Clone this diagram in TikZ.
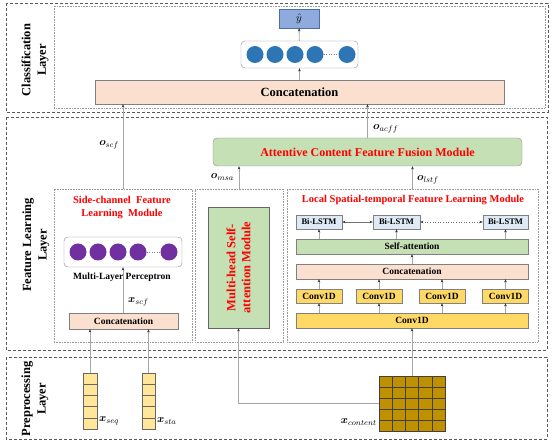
\documentclass[tikz,border=0pt]{standalone}
\usepackage{amsmath}
\usepackage{amssymb}
\usepackage{fontspec}
\setmainfont{Liberation Serif}
\usepackage{tikz}
\usetikzlibrary{arrows.meta}
\definecolor{concatfill}{HTML}{FBE0CF}
\definecolor{yhatfill}{HTML}{8FAADC}
\definecolor{yhatedge}{HTML}{4A6EA8}
\definecolor{bluedot}{HTML}{2E75B6}
\definecolor{purpledot}{HTML}{7030A0}
\definecolor{greenfill}{HTML}{C5E0B4}
\definecolor{lstmfill}{HTML}{DEEBF7}
\definecolor{convfill}{HTML}{FFD966}
\definecolor{vecfill}{HTML}{FFE699}
\definecolor{matfill}{HTML}{BF9000}
\definecolor{redtext}{HTML}{FF0000}

\begin{document}
\begin{tikzpicture}[x=1pt,y=-1pt,
    layerbox/.style={draw=black!65,dash pattern=on 3pt off 2pt,line width=0.9pt},
    modbox/.style={draw=black!40,densely dotted,line width=0.6pt,inner sep=0pt},
    block/.style={draw=black!50,inner sep=0pt,font=\bfseries\fontsize{9.5pt}{11pt}\selectfont},
    roundbox/.style={draw=black!45,rounded corners=4pt,fill=white,inner sep=0pt},
    layertext/.style={rotate=90,align=center,font=\bfseries\fontsize{12.5pt}{15.5pt}\selectfont},
    redtitle/.style={text=redtext,align=center,font=\bfseries\fontsize{10.5pt}{13pt}\selectfont},
    lab/.style={inner sep=1pt,font=\fontsize{11pt}{12pt}\selectfont},
    arr/.style={draw=black!35,line width=0.9pt,-{Stealth[length=3.2pt,width=2.6pt,black!80]}},
    darr/.style={draw=black!55,line width=0.6pt,{Stealth[length=3.2pt,width=2.6pt,black!80]}-{Stealth[length=3.2pt,width=2.6pt,black!80]}}]
\useasboundingbox (0,0) rectangle (555,446);
% layers
\draw[layerbox] (6,3) rectangle (548,112);
\draw[modbox] (54,6) rectangle (545,108);
\draw[layerbox] (6,117) rectangle (547,350);
\draw[layerbox] (6,357) rectangle (547,439);
\node[layertext] (cltext) at (35,60) {Classification\\Layer};
\node[layertext] (fltext) at (36,245) {Feature Learning\\Layer};
\node[layertext] (pltext) at (35,399) {Preprocessing\\Layer};
% classification layer
\node[block,fill=yhatfill,draw=yhatedge,minimum width=40pt,minimum height=19pt,font=\fontsize{10.5pt}{12pt}\selectfont] (yhat) at (299,18.5) {$\hat{y}$};
\node[roundbox,minimum width=117pt,minimum height=27pt] (outl) at (299.5,54.5) {};
\fill[bluedot] (255,54.5) circle[radius=8.5pt];
\fill[bluedot] (275,54.5) circle[radius=8.5pt];
\fill[bluedot] (295,54.5) circle[radius=8.5pt];
\fill[bluedot] (315,54.5) circle[radius=8.5pt];
\fill[bluedot] (347,54.5) circle[radius=8.5pt];
\draw[black!50,dotted] (324,54.5) -- (338,54.5);
\node[block,fill=concatfill,minimum width=409pt,minimum height=24pt,font=\bfseries\fontsize{12.5pt}{14pt}\selectfont] (ccat) at (299.5,92) {Concatenation};
\draw[arr] (ccat) -- (outl);
\draw[arr] (outl) -- (yhat);
% feature learning layer
\node[roundbox,fill=greenfill,minimum width=309pt,minimum height=28pt,text=redtext,font=\bfseries\fontsize{12pt}{14pt}\selectfont] (acff) at (367.5,152) {Attentive Content Feature Fusion Module};
\node[modbox,minimum width=138pt,minimum height=153pt] (scf) at (123,265.5) {};
\node[modbox,minimum width=88pt,minimum height=153pt] (msam) at (239,265.5) {};
\node[modbox,minimum width=251pt,minimum height=153pt] (lstf) at (412.5,265.5) {};
\draw[arr] (acff.north) -- (acff.north |- ccat.south);
\node[lab,anchor=west] (oacff) at (372,129) {$\boldsymbol{o}_{acff}$};
\draw[arr] (scf.north) -- (scf.north |- ccat.south);
\node[lab,anchor=east] (oscf) at (120,145) {$\boldsymbol{o}_{scf}$};
\draw[arr] (msam.north) -- (msam.north |- acff.south);
\node[lab,anchor=east] (omsa) at (235,177) {$\boldsymbol{o}_{msa}$};
\draw[arr] (lstf.north) -- (lstf.north |- acff.south);
\node[lab,anchor=west] (olstf) at (416,180) {$\boldsymbol{o}_{lstf}$};
% side-channel module
\node[redtitle] (scftitle) at (122,208) {Side-channel\ \ Feature\\Learning\ \ Module};
\node[roundbox,minimum width=118pt,minimum height=30pt] (mlp) at (123,252) {};
\fill[purpledot] (78,252) circle[radius=8.5pt];
\fill[purpledot] (98,252) circle[radius=8.5pt];
\fill[purpledot] (118,252) circle[radius=8.5pt];
\fill[purpledot] (138,252) circle[radius=8.5pt];
\fill[purpledot] (169,252) circle[radius=8.5pt];
\draw[black!50,dotted] (147,252) -- (160,252);
\node[font=\bfseries\fontsize{9.5pt}{11pt}\selectfont] (mlptext) at (122,277) {Multi-Layer Perceptron};
\node[block,fill=concatfill,minimum width=109pt,minimum height=16pt] (ccats) at (123.5,321) {Concatenation};
\draw[arr] (mlp.south |- ccats.north) -- (mlp.south);
\node[lab,anchor=west] (xscf) at (127,302) {$\boldsymbol{x}_{scf}$};
% multi-head self-attention module
\node[block,fill=greenfill,draw=black!60,minimum width=61pt,minimum height=121pt] (msa) at (238.5,267.5) {};
\node[redtitle,rotate=90,font=\bfseries\fontsize{12.5pt}{15pt}\selectfont] (msatext) at (msa) {Multi-head Self-\\attention Module};
% local spatial-temporal module
\node[redtitle] (lstftitle) at (413,200) {Local Spatial-temporal Feature Learning Module};
\node[block,fill=lstmfill,minimum width=46pt,minimum height=14pt,font=\bfseries\fontsize{8.5pt}{10pt}\selectfont] (bl1) at (319,222) {Bi-LSTM};
\node[block,fill=lstmfill,minimum width=47pt,minimum height=14pt,font=\bfseries\fontsize{8.5pt}{10pt}\selectfont] (bl2) at (396.5,222) {Bi-LSTM};
\node[block,fill=lstmfill,minimum width=45pt,minimum height=14pt,font=\bfseries\fontsize{8.5pt}{10pt}\selectfont] (bl3) at (505.5,222) {Bi-LSTM};
\draw[darr] (bl1) -- (bl2);
\draw[darr,dotted] (bl2) -- (bl3);
\node[block,fill=greenfill,minimum width=232pt,minimum height=15pt] (satt) at (412,246.5) {Self-attention};
\node[block,fill=concatfill,minimum width=232pt,minimum height=15pt] (ccatl) at (412,271.5) {Concatenation};
\node[block,fill=convfill,minimum width=46pt,minimum height=14pt] (cv1) at (319,296) {Conv1D};
\node[block,fill=convfill,minimum width=46pt,minimum height=14pt] (cv2) at (379,296) {Conv1D};
\node[block,fill=convfill,minimum width=46pt,minimum height=14pt] (cv3) at (442,296) {Conv1D};
\node[block,fill=convfill,minimum width=46pt,minimum height=14pt] (cv4) at (505.5,296) {Conv1D};
\node[block,fill=convfill,minimum width=232pt,minimum height=15pt] (cvb) at (412,320.5) {Conv1D};
\draw[arr] (bl1.south |- satt.north) -- (bl1.south);
\draw[arr] (bl2.south |- satt.north) -- (bl2.south);
\draw[arr] (bl3.south |- satt.north) -- (bl3.south);
\draw[arr] (ccatl) -- (satt);
\draw[arr] (cv1.north) -- (cv1.north |- ccatl.south);
\draw[arr] (cv2.north) -- (cv2.north |- ccatl.south);
\draw[arr] (cv3.north) -- (cv3.north |- ccatl.south);
\draw[arr] (cv4.north) -- (cv4.north |- ccatl.south);
\draw[arr] (cv1.south |- cvb.north) -- (cv1.south);
\draw[arr] (cv2.south |- cvb.north) -- (cv2.south);
\draw[arr] (cv3.south |- cvb.north) -- (cv3.south);
\draw[arr] (cv4.south |- cvb.north) -- (cv4.south);
% preprocessing layer
\node[draw=black!60,fill=vecfill,minimum width=14pt,minimum height=56pt,inner sep=0pt] (xseq) at (90,401) {};
\draw[black!60] (83,384.2) -- (97,384.2) (83,395.4) -- (97,395.4) (83,406.6) -- (97,406.6) (83,417.8) -- (97,417.8);
\node[draw=black!60,fill=vecfill,minimum width=13pt,minimum height=56pt,inner sep=0pt] (xsta) at (148.5,401) {};
\draw[black!60] (142,384.2) -- (155,384.2) (142,395.4) -- (155,395.4) (142,406.6) -- (155,406.6) (142,417.8) -- (155,417.8);
\node[lab,anchor=west] (xseql) at (98,421) {$\boldsymbol{x}_{seq}$};
\node[lab,anchor=west] (xstal) at (156,421) {$\boldsymbol{x}_{sta}$};
\node[draw=black!75,fill=matfill,minimum width=66pt,minimum height=55pt,inner sep=0pt] (xcont) at (412,403.5) {};
\draw[black!75] (392.2,376) -- (392.2,431) (405.4,376) -- (405.4,431) (418.6,376) -- (418.6,431) (431.8,376) -- (431.8,431);
\draw[black!75] (379,387) -- (445,387) (379,398) -- (445,398) (379,409) -- (445,409) (379,420) -- (445,420);
\node[lab,anchor=east] (xcontl) at (378,422) {$\boldsymbol{x}_{content}$};
\draw[arr] (xseq.north) -- (xseq.north |- ccats.south);
\draw[arr] (xsta.north) -- (xsta.north |- ccats.south);
\draw[arr] (xcont.west) -| (msa.south);
\draw[arr] (xcont.north) -- (xcont.north |- cvb.south);
\end{tikzpicture}
\end{document}
